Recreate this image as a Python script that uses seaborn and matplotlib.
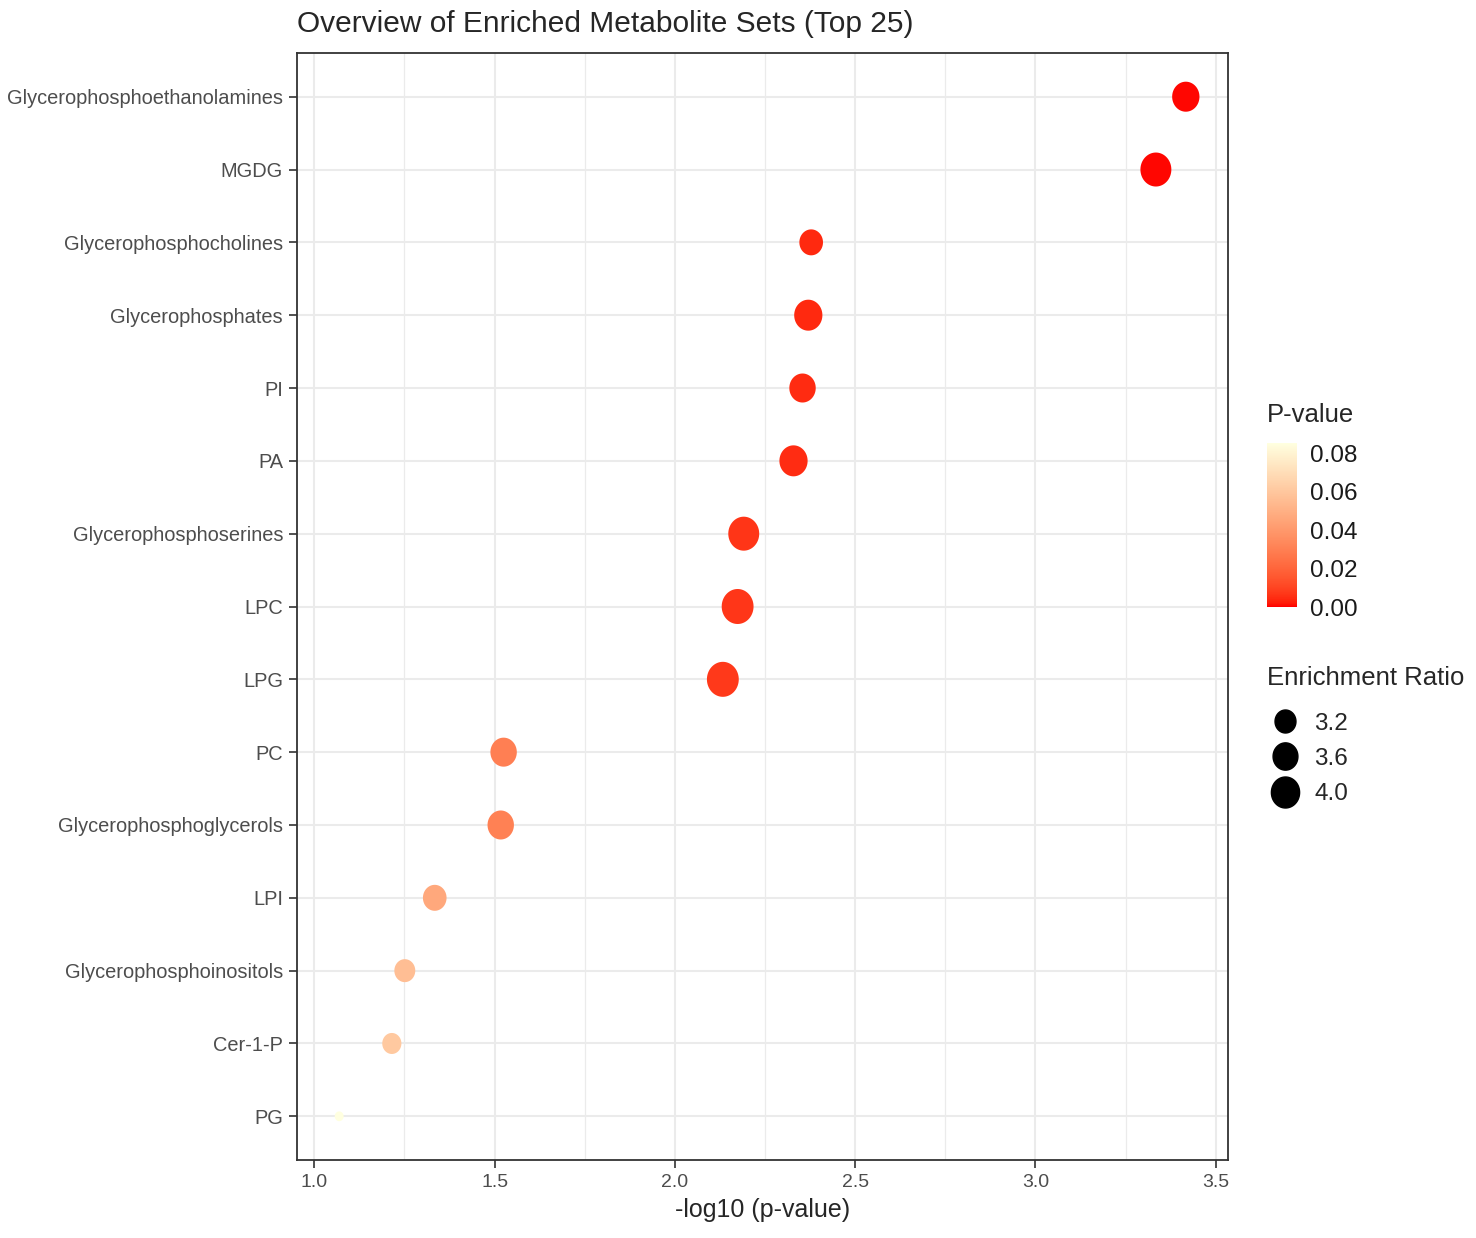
import numpy as np
import pandas as pd
import seaborn as sns
import matplotlib.pyplot as plt
import matplotlib.colors as mcolors
from matplotlib.path import Path
from matplotlib.lines import Line2D
from matplotlib.cm import ScalarMappable

# --------------------------------------------------#
# Data
# --------------------------------------------------#

metabolite_sets = [
    "Glycerophosphoethanolamines", "MGDG", "Glycerophosphocholines",
    "Glycerophosphates", "PI", "PA", "Glycerophosphoserines", "LPC", "LPG",
    "PC", "Glycerophosphoglycerols", "LPI", "Glycerophosphoinositols",
    "Cer-1-P", "PG",
]
neg_log10_p = [3.417, 3.334, 2.378, 2.370, 2.354, 2.329, 2.191, 2.174, 2.133,
               1.525, 1.517, 1.334, 1.251, 1.215, 1.069]
enrichment_ratio = [3.89, 4.36, 3.47, 4.00, 3.78, 4.00, 4.36, 4.49, 4.49,
                    3.78, 3.78, 3.47, 3.20, 3.04, 2.40]

pval_ticks = [0.00, 0.02, 0.04, 0.06, 0.08]
ratio_ticks = [3.2, 3.6, 4.0]
x_ticks = [1.0, 1.5, 2.0, 2.5, 3.0, 3.5]

df = pd.DataFrame({"name": metabolite_sets,
                   "logp": neg_log10_p,
                   "ratio": enrichment_ratio})
df["pval"] = 10 ** (-df["logp"])


# --------------------------------------------------#
# Colour ramp red -> lightyellow, interpolated in CIELAB like ggplot
# --------------------------------------------------#

M = np.array([[0.4124, 0.3576, 0.1805],
              [0.2126, 0.7152, 0.0722],
              [0.0193, 0.1192, 0.9505]])
WHITE = np.array([0.95047, 1.0, 1.08883])


def to_lab(col):
    c = np.array(mcolors.to_rgb(col))
    c = np.where(c > 0.04045, ((c + 0.055) / 1.055) ** 2.4, c / 12.92)
    xyz = M @ c / WHITE
    f = np.where(xyz > 0.008856, np.cbrt(xyz), 7.787 * xyz + 16 / 116)
    return np.array([116 * f[1] - 16, 500 * (f[0] - f[1]), 200 * (f[1] - f[2])])


def from_lab(lab):
    fy = (lab[0] + 16) / 116
    f = np.array([fy + lab[1] / 500, fy, fy - lab[2] / 200])
    xyz = np.where(f ** 3 > 0.008856, f ** 3, (f - 16 / 116) / 7.787) * WHITE
    c = np.linalg.solve(M, xyz)
    c = np.where(c > 0.0031308, 1.055 * np.clip(c, 0, None) ** (1 / 2.4) - 0.055, 12.92 * c)
    return np.clip(c, 0, 1)


lo, hi = to_lab("red"), to_lab("lightyellow")
ramp = [from_lab(lo + t * (hi - lo)) for t in np.linspace(0, 1, 256)]
cmap = mcolors.ListedColormap(ramp)

# slightly tall ellipse marker, like the stretched original
theta = np.linspace(0, 2 * np.pi, 72)
ellipse = Path(np.column_stack([0.91 * np.cos(theta), np.sin(theta)]), closed=True)

size_norm = (2.4, 4.5)
size_range = (50, 638)


def size_of(v):
    t = (v - size_norm[0]) / (size_norm[1] - size_norm[0])
    return size_range[0] + t * (size_range[1] - size_range[0])


# --------------------------------------------------#
# Plot
# --------------------------------------------------#

sns.set_style("white")
plt.rcParams["font.family"] = ["Liberation Sans", "DejaVu Sans"]

W, H = 1476, 1238
fig = plt.figure(figsize=(W / 100, H / 100), dpi=100)
ax = fig.add_axes([297 / W, 1 - 1160 / H, (1228 - 297) / W, (1160 - 53) / H])

pmax = df["pval"].max()
sns.scatterplot(data=df, x="logp", y="name", hue="pval", size="ratio",
                palette=cmap, hue_norm=(0, pmax),
                sizes=size_range, size_norm=size_norm,
                marker=ellipse, linewidth=0, legend=False, ax=ax, zorder=3)

ax.set_xlim(0.952, 3.534)
ax.set_ylim(len(metabolite_sets) - 0.4, -0.6)
ax.set_xticks(x_ticks)
ax.set_xticklabels([f"{v:.1f}" for v in x_ticks])
ax.set_xticks([1.25, 1.75, 2.25, 2.75, 3.25], minor=True)

ax.set_axisbelow(True)
ax.grid(which="major", color="#EBEBEB", linewidth=1.5)
ax.grid(which="minor", axis="x", color="#EBEBEB", linewidth=0.9)
for sp in ax.spines.values():
    sp.set_color("#333333")
    sp.set_linewidth(1.3)

ax.tick_params(axis="both", which="major", length=6, width=1.2, color="#333333",
               direction="out", bottom=True, left=True)
ax.tick_params(axis="x", which="minor", length=0)
ax.tick_params(axis="y", labelsize=14.4, labelcolor="#4D4D4D", pad=4)
ax.tick_params(axis="x", labelsize=14, labelcolor="#4D4D4D", pad=4)

ax.set_ylabel("")
ax.set_xlabel("-log10 (p-value)", fontsize=18, labelpad=5)
ax.set_title("Overview of Enriched Metabolite Sets (Top 25)", fontsize=21.5,
             loc="left", pad=15)

# P-value colourbar
cax = fig.add_axes([1267 / W, 1 - 607 / H, 30 / W, 164 / H])
sm = ScalarMappable(norm=mcolors.Normalize(0, pmax), cmap=cmap)
cb = fig.colorbar(sm, cax=cax)
cb.set_ticks(pval_ticks)
cb.set_ticklabels([f"{v:.2f}" for v in pval_ticks])
cb.outline.set_visible(False)
cb.minorticks_off()
cax.tick_params(length=6, width=1, color="white", direction="in",
                left=True, right=True, labelsize=17.5, labelcolor="#1A1A1A", pad=9)
fig.text(1267 / W, 1 - 415 / H, "P-value", fontsize=18.5, va="center", ha="left")

# Enrichment Ratio legend
fig.text(1267 / W, 1 - 678 / H, "Enrichment Ratio", fontsize=18.5,
         va="center", ha="left")
handles = [Line2D([], [], marker=ellipse, linestyle="", color="black",
                  markersize=np.sqrt(size_of(v))) for v in ratio_ticks]
fig.legend(handles, [f"{v:.1f}" for v in ratio_ticks],
           loc="upper left", bbox_to_anchor=(1261 / W, 1 - 703 / H), frameon=False,
           fontsize=17.5, labelspacing=0.54, handlelength=1.2,
           handletextpad=0.6, borderaxespad=0)

fig.savefig("out.png", dpi=100)
